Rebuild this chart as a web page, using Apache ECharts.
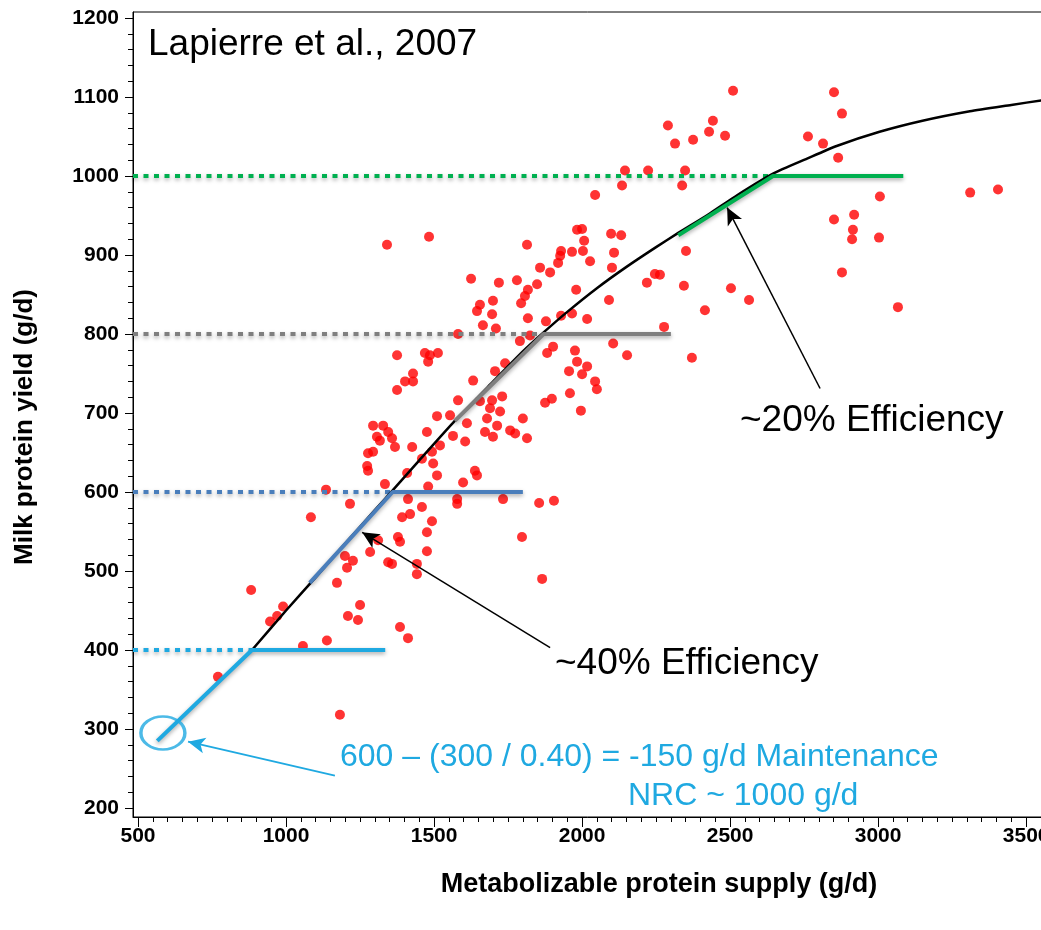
<!DOCTYPE html>
<html>
<head>
<meta charset="utf-8">
<script src="https://cdn.jsdelivr.net/npm/echarts@6/dist/echarts.min.js"></script>
<style>
html,body{margin:0;padding:0;background:#fff;}
#chart{width:1041px;height:930px;}
</style>
</head>
<body>
<div id="chart"></div>
<script>
// ---- data ----
const xTicks = [500, 1000, 1500, 2000, 2500, 3000, 3500];
const yTicks = [200, 300, 400, 500, 600, 700, 800, 900, 1000, 1100, 1200];

const cowPoints = [
  [770,366],[882,476],[990,455],[970,443],[946,436],[1057,405],[1138,412],[1084,568],[1135,603],
  [1182,318],[1172,485],[1250,457],[1209,443],[1243,438],[1385,429],[1412,415],[1442,496],
  [1375,773],[1469,776],[1486,773],[1513,776],[1480,765],[1429,750],[1402,740],[1429,740],[1375,729],
  [1632,741],[1706,753],[1740,763],[1790,791],[1581,716],[1655,715],[1696,716],[1730,721],[1689,706],
  [1723,702],[1679,693],[1713,684],[1699,670],[1672,676],[1757,678],[1774,674],[1814,668],[1800,693],
  [1554,697],[1510,696],[1611,687],[1476,676],[1564,671],[1605,664],[1520,659],[1426,657],[1459,642],
  [1493,651],[1497,636],[1510,621],[1638,627],[1645,621],[1598,612],[1480,607],[1409,624],[1334,610],
  [1274,633],[1277,627],[1277,649],[1294,651],[1307,670],[1294,684],[1328,684],[1345,676],[1358,668],
  [1368,657],[1317,665],[1578,591],[1578,585],[1733,591],[1412,591],[1459,581],[1419,572],[1392,568],
  [1216,585],[1493,563],[1476,549],[1378,543],[1385,537],[1476,525],[1284,524],[1199,519],[1226,513],
  [1345,511],[1358,509],[1442,509],[1797,543],[1311,539],[1206,504],
  [1341,913],[1483,923],
  [2145,1007],[2135,988],[2044,976],[1983,932],[2000,933],[2007,918],[2098,927],[2132,925],[1814,913],
  [1929,905],[1926,899],[1919,890],[1966,904],[2003,905],[2027,892],[2108,903],[1858,884],[1892,878],
  [2101,884],[1625,870],[1719,865],[1780,868],[1848,863],[1817,856],[1807,848],[1794,839],[1655,837],
  [1645,829],[1699,842],[1696,825],[1980,856],[2091,843],[1966,826],[1929,823],[2017,819],[1817,820],
  [1878,816],[1665,811],[1709,807],[1581,800],[1824,798],[1902,784],[1882,776],[1976,779],[2105,788],
  [2152,773],
  [1956,753],[2000,749],[2017,759],[1983,765],[2044,740],[2050,730],[1875,713],[1898,718],[1959,725],
  [1996,703],[1855,586],[1905,589],[1865,490],
  [2510,1108],[2290,1064],[2442,1070],[2429,1056],[2483,1051],[2375,1046],[2314,1041],[2223,1007],
  [2348,1007],[2338,988],[2351,905],[2246,876],[2263,875],[2219,865],[2344,861],[2503,858],[2564,843],
  [2415,830],[2277,809],[2371,770],
  [2851,1106],[2878,1079],[2763,1050],[2814,1041],[2865,1023],[3006,974],[3311,979],[3405,983],
  [2851,945],[2919,951],[2915,932],[2912,920],[3003,922],[2878,878],[3067,834]
];

const fitCurve = [[885,400],[1000,450],[1100,492],[1200,535],[1300,577],[1360,602],[1450,640],
  [1570,690],[1700,740],[1800,778],[1870,802],[1950,828],[2050,858],[2150,885],[2250,910],
  [2325,928],[2425,951],[2525,976],[2645,1003],[2760,1022],[2860,1038],[3005,1056],[3150,1070],
  [3310,1082],[3450,1090],[3557,1096]];

const effCyan  = [[565,285],[885,400],[1335,400]];
const effBlue  = [[1080,485],[1360,600],[1800,600]];
const effGray  = [[1570,690],[1870,800],[2300,800]];
const effGreen = [[2325,925],[2645,1000],[3085,1000]];

const dotCyan  = [[483,400],[885,400]];
const dotBlue  = [[483,600],[1360,600]];
const dotGray  = [[483,800],[1870,800]];
const dotGreen = [[483,1000],[2645,1000]];

const maintenanceCircle = [[584,295]];
const arrow20 = [[2804,731],[2490,960]];
const arrow40 = [[1892,403],[1257,549]];
const arrowMaint = [[1165,241],[669,284]];

// ---- chart ----
const X_MIN = 483, X_MAX = 3557, Y_MIN = 188.6, Y_MAX = 1207.6;
const minorX = []; for (let v = 500; v <= 3550; v += 50) minorX.push(v);
const minorY = []; for (let v = 200; v <= 1200; v += 20) minorY.push(v);

const CYAN = '#1fa9e1', BLUE = '#4a7ebb', GRAY = '#7f7f7f', GREEN = '#00b050';
const tickFont = "'Liberation Sans',Arial,sans-serif";
const shadow = {shadowColor:'rgba(0,0,0,0.35)', shadowBlur:4, shadowOffsetY:2};

function solid(data, color){
  return {type:'line', data:data, symbol:'none', silent:true, z:6,
    lineStyle:Object.assign({color:color, width:4, cap:'butt'}, shadow)};
}
function dotted(data, color){
  return {type:'line', data:data, symbol:'none', silent:true, z:4,
    lineStyle:Object.assign({color:color, width:4, type:[5,5.5], cap:'butt'}, shadow)};
}
function arrow(seg, color, w){
  return {type:'line', data:[], silent:true, z:8,
    markLine:{silent:true, symbol:['none','arrow'], symbolSize:[12,17], label:{show:false},
      lineStyle:{color:color, width:w, type:'solid'},
      emphasis:{disabled:true},
      data:[[{coord:seg[0]},{coord:seg[1]}]]}};
}
const plain = v => String(v);

const chart = echarts.init(document.getElementById('chart'), null, {renderer:'canvas'});
chart.setOption({
  backgroundColor:'#fff',
  animation:false,
  grid:{left:133, top:12, right:-2, bottom:113, outerBoundsMode:'none', containLabel:false,
        show:true, borderColor:'#000', borderWidth:1, backgroundColor:'transparent'},
  xAxis:[
    {type:'value', min:X_MIN, max:X_MAX, position:'bottom',
     axisLine:{show:true, lineStyle:{color:'#000', width:1}},
     axisTick:{show:true, customValues:xTicks, length:10, lineStyle:{color:'#000', width:1}},
     axisLabel:{show:true, customValues:xTicks, formatter:plain, margin:9, color:'#000', fontSize:21, fontWeight:'bold', fontFamily:tickFont},
     splitLine:{show:false}},
    {type:'value', min:X_MIN, max:X_MAX, position:'bottom',
     axisLine:{show:false},
     axisTick:{show:true, customValues:minorX, length:5, lineStyle:{color:'#000', width:1}},
     axisLabel:{show:false}, splitLine:{show:false}}
  ],
  yAxis:[
    {type:'value', min:Y_MIN, max:Y_MAX, position:'left',
     axisLine:{show:true, lineStyle:{color:'#000', width:1}},
     axisTick:{show:true, customValues:yTicks, length:8, lineStyle:{color:'#000', width:1}},
     axisLabel:{show:true, customValues:yTicks, formatter:plain, margin:14, color:'#000', fontSize:21, fontWeight:'bold', fontFamily:tickFont},
     splitLine:{show:false}},
    {type:'value', min:Y_MIN, max:Y_MAX, position:'left',
     axisLine:{show:false},
     axisTick:{show:true, customValues:minorY, length:5, lineStyle:{color:'#000', width:1}},
     axisLabel:{show:false}, splitLine:{show:false}}
  ],
  series:[
    {type:'scatter', data:cowPoints, symbol:'circle', symbolSize:10, silent:true, z:3,
     itemStyle:{color:'#ff0000'}},
    dotted(dotCyan, CYAN), dotted(dotBlue, BLUE), dotted(dotGray, GRAY), dotted(dotGreen, GREEN),
    {type:'line', data:fitCurve, symbol:'none', smooth:0.2, silent:true, z:5,
     lineStyle:{color:'#000', width:2.5}},
    solid(effCyan, CYAN), solid(effBlue, BLUE), solid(effGray, GRAY), solid(effGreen, GREEN),
    {type:'scatter', data:maintenanceCircle, symbol:'circle', symbolSize:[44,33], silent:true, z:7,
     itemStyle:{color:'rgba(0,0,0,0)', borderColor:CYAN, borderWidth:3}},
    arrow(arrow20, '#000', 1.5), arrow(arrow40, '#000', 1.5), arrow(arrowMaint, CYAN, 2)
  ],
  graphic:[
    {type:'text', x:148, y:45, style:{text:'Lapierre et al., 2007', font:'37px "Liberation Sans", Arial, sans-serif', fill:'#000', verticalAlign:'middle'}},
    {type:'text', x:740, y:421, style:{text:'~20% Efficiency', font:'37px "Liberation Sans", Arial, sans-serif', fill:'#000', verticalAlign:'middle'}},
    {type:'text', x:555, y:664, style:{text:'~40% Efficiency', font:'37px "Liberation Sans", Arial, sans-serif', fill:'#000', verticalAlign:'middle'}},
    {type:'text', x:340, y:757, style:{text:'600 \u2013 (300 / 0.40) = -150 g/d Maintenance', font:'32px "Liberation Sans", Arial, sans-serif', fill:CYAN, verticalAlign:'middle'}},
    {type:'text', x:628, y:796, style:{text:'NRC ~ 1000 g/d', font:'32px "Liberation Sans", Arial, sans-serif', fill:CYAN, verticalAlign:'middle'}},
    {type:'text', x:659, y:885, style:{text:'Metabolizable protein supply (g/d)', font:'bold 27px "Liberation Sans", Arial, sans-serif', fill:'#000', align:'center', verticalAlign:'middle'}},
    {type:'text', x:25, y:427, rotation:Math.PI/2,
     style:{text:'Milk protein yield (g/d)', font:'bold 26px "Liberation Sans", Arial, sans-serif', fill:'#000', align:'center', verticalAlign:'middle'}}
  ]
});
</script>
</body>
</html>
